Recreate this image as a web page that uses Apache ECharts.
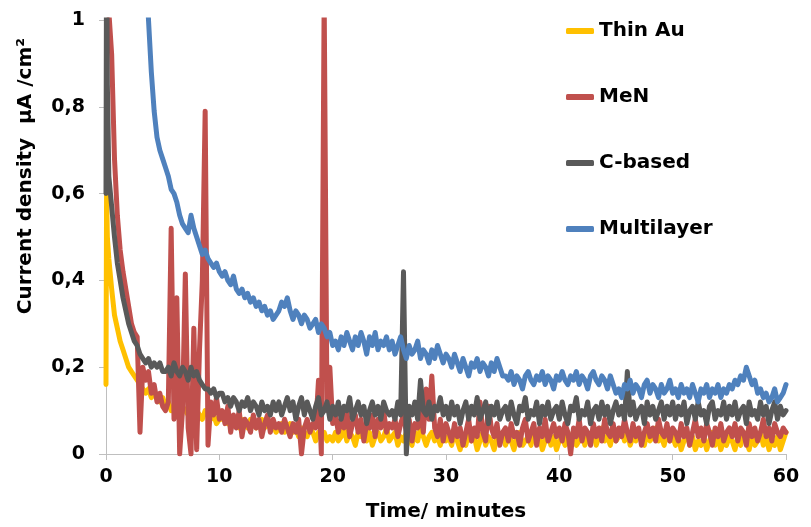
<!DOCTYPE html>
<html><head><meta charset="utf-8">
<script src="https://cdn.jsdelivr.net/npm/echarts@6/dist/echarts.min.js"></script>
<style>html,body{margin:0;padding:0;background:#fff}#c{width:811px;height:527px}</style>
</head><body><div id="c"></div>
<script>
const times = [0,0.05,0.12,
0.25,0.5,0.75,1,1.25,1.5,1.75,2,2.25,2.5,2.75,3,3.25,3.5,3.75,4,4.25,4.5,4.75,5,
5.25,5.5,5.75,6,6.25,6.5,6.75,7,7.25,7.5,7.75,8,8.25,8.5,8.75,9,9.25,9.5,9.75,10,
10.25,10.5,10.75,11,11.25,11.5,11.75,12,12.25,12.5,12.75,13,13.25,13.5,13.75,14,14.25,14.5,14.75,15,
15.25,15.5,15.75,16,16.25,16.5,16.75,17,17.25,17.5,17.75,18,18.25,18.5,18.75,19,19.25,19.5,19.75,20,
20.25,20.5,20.75,21,21.25,21.5,21.75,22,22.25,22.5,22.75,23,23.25,23.5,23.75,24,24.25,24.5,24.75,25,
25.25,25.5,25.75,26,26.25,26.5,26.75,27,27.25,27.5,27.75,28,28.25,28.5,28.75,29,29.25,29.5,29.75,30,
30.25,30.5,30.75,31,31.25,31.5,31.75,32,32.25,32.5,32.75,33,33.25,33.5,33.75,34,34.25,34.5,34.75,35,
35.25,35.5,35.75,36,36.25,36.5,36.75,37,37.25,37.5,37.75,38,38.25,38.5,38.75,39,39.25,39.5,39.75,40,
40.25,40.5,40.75,41,41.25,41.5,41.75,42,42.25,42.5,42.75,43,43.25,43.5,43.75,44,44.25,44.5,44.75,45,
45.25,45.5,45.75,46,46.25,46.5,46.75,47,47.25,47.5,47.75,48,48.25,48.5,48.75,49,49.25,49.5,49.75,50,
50.25,50.5,50.75,51,51.25,51.5,51.75,52,52.25,52.5,52.75,53,53.25,53.5,53.75,54,54.25,54.5,54.75,55,
55.25,55.5,55.75,56,56.25,56.5,56.75,57,57.25,57.5,57.75,58,58.25,58.5,58.75,59,59.25,59.5,59.75,60];

const thinAu = [0.16,0.6,0.5,
0.45,0.38,0.32,0.29,0.26,0.24,0.22,0.2,0.19,0.18,0.17,0.16,0.15,0.14,0.15,0.13,0.14,0.13,0.12,0.13,
0.11,0.12,0.1,0.11,0.1,0.09,0.11,0.1,0.09,0.1,0.08,0.1,0.09,0.08,0.1,0.09,0.08,0.09,0.07,0.08,
0.08,0.09,0.07,0.08,0.07,0.08,0.06,0.08,0.07,0.06,0.08,0.07,0.06,0.07,0.08,0.06,0.07,0.06,0.07,0.05,
0.06,0.07,0.05,0.06,0.07,0.05,0.06,0.04,0.06,0.05,0.04,0.06,0.05,0.03,0.05,0.04,0.05,0.03,0.04,0.03,
0.05,0.03,0.04,0.06,0.03,0.05,0.04,0.02,0.05,0.04,0.06,0.03,0.05,0.02,0.04,0.05,0.03,0.04,0.06,0.03,
0.04,0.05,0.02,0.04,0.03,0.05,0.04,0.02,0.05,0.03,0.06,0.04,0.02,0.04,0.05,0.03,0.04,0.02,0.05,0.03,
0.04,0.02,0.05,0.03,0.01,0.04,0.02,0.05,0.03,0.04,0.01,0.03,0.05,0.02,0.04,0.03,0.01,0.04,0.03,0.05,
0.02,0.04,0.03,0.01,0.04,0.05,0.02,0.03,0.04,0.02,0.05,0.03,0.04,0.01,0.03,0.05,0.02,0.04,0.01,0.03,
0.04,0.02,0.05,0.03,0.04,0.02,0.03,0.05,0.02,0.04,0.03,0.05,0.02,0.04,0.06,0.03,0.04,0.02,0.05,0.03,
0.04,0.06,0.03,0.05,0.02,0.04,0.03,0.05,0.04,0.02,0.05,0.03,0.04,0.06,0.03,0.04,0.02,0.05,0.03,0.04,
0.02,0.04,0.01,0.03,0.05,0.02,0.04,0.01,0.03,0.02,0.04,0.01,0.03,0.05,0.02,0.04,0.01,0.03,0.02,0.04,
0.03,0.01,0.04,0.02,0.05,0.03,0.01,0.04,0.02,0.03,0.05,0.02,0.04,0.01,0.03,0.02,0.04,0.01,0.03,0.05];

const meN = [1.3,1.2,1.1,
1.02,0.92,0.68,0.55,0.47,0.42,0.38,0.34,0.3,0.28,0.27,0.05,0.2,0.17,0.19,0.14,0.16,0.12,0.14,0.11,
0.1,0.12,0.52,0.08,0.36,0.0,0.1,0.415,0.06,0.0,0.29,0.01,0.24,0.4,0.79,0.02,0.12,0.09,0.13,0.08,
0.1,0.07,0.11,0.05,0.09,0.06,0.1,0.04,0.08,0.07,0.05,0.09,0.06,0.08,0.04,0.07,0.09,0.05,0.08,0.06,
0.07,0.05,0.08,0.06,0.04,0.07,0.05,0.08,0.0,0.06,0.08,0.05,0.07,0.06,0.17,0.0,1.05,0.1,0.2,0.07,
0.09,0.05,0.08,0.06,0.1,0.04,0.07,0.09,0.05,0.08,0.03,0.07,0.06,0.09,0.04,0.08,0.06,0.1,0.05,0.07,
0.06,0.08,0.04,0.07,0.09,0.05,0.08,0.03,0.07,0.06,0.1,0.05,0.15,0.08,0.18,0.06,0.04,0.08,0.03,0.07,
0.05,0.03,0.07,0.04,0.06,0.02,0.05,0.08,0.03,0.06,0.04,0.12,0.05,0.03,0.11,0.06,0.04,0.07,0.02,0.05,
0.06,0.03,0.07,0.04,0.05,0.02,0.06,0.08,0.03,0.05,0.07,0.02,0.06,0.04,0.08,0.03,0.05,0.07,0.04,0.06,
0.03,0.07,0.05,0.0,0.06,0.04,0.08,0.03,0.06,0.05,0.02,0.07,0.04,0.06,0.03,0.08,0.05,0.04,0.07,0.03,
0.06,0.04,0.08,0.05,0.03,0.07,0.04,0.06,0.02,0.05,0.07,0.04,0.06,0.03,0.08,0.05,0.04,0.07,0.03,0.06,
0.05,0.03,0.07,0.04,0.06,0.02,0.05,0.08,0.04,0.06,0.03,0.07,0.05,0.02,0.06,0.04,0.07,0.03,0.05,0.06,
0.04,0.07,0.03,0.06,0.05,0.02,0.07,0.04,0.06,0.03,0.05,0.08,0.04,0.06,0.03,0.07,0.05,0.04,0.06,0.05];

const cBased = [0.6,1.2,0.85,
0.64,0.57,0.5,0.44,0.4,0.36,0.33,0.3,0.28,0.26,0.25,0.23,0.22,0.21,0.22,0.2,0.21,0.2,0.21,0.19,
0.19,0.2,0.18,0.21,0.19,0.18,0.2,0.19,0.17,0.2,0.18,0.19,0.17,0.16,0.15,0.15,0.14,0.15,0.13,0.14,
0.14,0.12,0.13,0.11,0.13,0.12,0.1,0.12,0.11,0.13,0.1,0.12,0.11,0.09,0.12,0.1,0.11,0.09,0.12,0.1,
0.12,0.09,0.11,0.13,0.1,0.12,0.08,0.11,0.13,0.09,0.12,0.1,0.08,0.11,0.13,0.09,0.1,0.12,0.08,0.11,
0.09,0.12,0.08,0.11,0.1,0.13,0.08,0.1,0.12,0.09,0.11,0.07,0.1,0.12,0.09,0.11,0.08,0.12,0.1,0.09,
0.1,0.08,0.12,0.09,0.42,0.0,0.11,0.09,0.12,0.08,0.17,0.1,0.09,0.12,0.08,0.11,0.1,0.13,0.09,0.11,
0.08,0.12,0.09,0.11,0.07,0.1,0.12,0.08,0.11,0.09,0.13,0.08,0.1,0.12,0.07,0.11,0.09,0.12,0.08,0.1,
0.11,0.08,0.12,0.09,0.07,0.11,0.1,0.13,0.08,0.1,0.09,0.12,0.07,0.11,0.09,0.12,0.08,0.1,0.11,0.08,
0.12,0.09,0.07,0.11,0.1,0.13,0.08,0.1,0.09,0.12,0.07,0.1,0.11,0.08,0.12,0.09,0.11,0.07,0.1,0.12,
0.09,0.11,0.08,0.19,0.09,0.12,0.08,0.1,0.11,0.07,0.12,0.09,0.11,0.08,0.1,0.12,0.08,0.11,0.09,0.12,
0.08,0.11,0.09,0.12,0.07,0.1,0.11,0.08,0.12,0.09,0.1,0.07,0.11,0.12,0.08,0.1,0.09,0.12,0.08,0.11,
0.09,0.12,0.08,0.1,0.11,0.07,0.12,0.09,0.1,0.08,0.12,0.09,0.11,0.07,0.1,0.12,0.08,0.11,0.09,0.1];

const multilayer = [null,null,null,
null,null,null,null,null,null,null,null,null,null,null,null,1.35,1.15,1.0,0.88,0.79,0.73,0.7,0.68,
0.66,0.64,0.61,0.6,0.58,0.55,0.53,0.52,0.51,0.55,0.52,0.5,0.48,0.46,0.47,0.45,0.44,0.43,0.44,0.42,
0.41,0.42,0.4,0.39,0.41,0.38,0.37,0.38,0.36,0.37,0.35,0.36,0.34,0.35,0.33,0.34,0.32,0.33,0.31,0.32,
0.33,0.35,0.34,0.36,0.33,0.31,0.33,0.32,0.3,0.32,0.31,0.29,0.3,0.31,0.28,0.3,0.29,0.27,0.28,0.25,
0.26,0.24,0.27,0.25,0.28,0.26,0.24,0.27,0.25,0.28,0.26,0.23,0.27,0.25,0.28,0.24,0.26,0.25,0.27,0.24,
0.26,0.23,0.25,0.27,0.24,0.22,0.25,0.23,0.24,0.26,0.22,0.24,0.23,0.21,0.24,0.22,0.25,0.23,0.21,0.23,
0.22,0.2,0.23,0.21,0.19,0.22,0.2,0.18,0.21,0.2,0.22,0.19,0.21,0.2,0.18,0.21,0.19,0.22,0.2,0.18,
0.18,0.17,0.19,0.16,0.18,0.17,0.15,0.18,0.19,0.17,0.16,0.18,0.17,0.19,0.16,0.18,0.17,0.15,0.18,0.17,
0.19,0.17,0.16,0.18,0.17,0.19,0.16,0.18,0.17,0.15,0.18,0.19,0.17,0.16,0.18,0.17,0.15,0.18,0.16,0.14,
0.15,0.13,0.16,0.15,0.17,0.14,0.16,0.15,0.13,0.16,0.17,0.14,0.16,0.15,0.13,0.16,0.14,0.15,0.17,0.14,
0.15,0.13,0.16,0.14,0.15,0.13,0.16,0.14,0.12,0.15,0.14,0.16,0.13,0.15,0.14,0.16,0.13,0.15,0.14,0.16,
0.15,0.17,0.16,0.18,0.17,0.2,0.18,0.16,0.17,0.14,0.15,0.13,0.14,0.12,0.13,0.15,0.12,0.13,0.14,0.16];

const seriesNames = ['Thin Au','MeN','C-based','Multilayer'];
const seriesValues = [thinAu, meN, cBased, multilayer];
const seriesColors = ['#FFC000','#C0504D','#595959','#4F81BD'];

const FONT = 'DejaVu Sans';
const chart = echarts.init(document.getElementById('c'), null, {renderer:'canvas'});
chart.setOption({
  animation: false,
  backgroundColor: '#fff',
  grid: {left: 106, right: 25, top: 20, bottom: 72, containLabel: false},
  legend: {
    orient: 'vertical', left: 561, top: 16, itemGap: 46,
    icon: 'roundRect', itemWidth: 28, itemHeight: 6,
    textStyle: {fontFamily: FONT, fontWeight: 'bold', fontSize: 20, color: '#000'},
    data: seriesNames
  },
  xAxis: {
    type: 'value', min: 0, max: 60, interval: 10,
    name: 'Time/ minutes', nameLocation: 'middle', nameGap: 48,
    nameTextStyle: {fontFamily: FONT, fontWeight: 'bold', fontSize: 20, color: '#000'},
    axisLine: {show: true, lineStyle: {color: '#BFBFBF', width: 1}},
    axisTick: {show: true, length: 6, lineStyle: {color: '#BFBFBF'}},
    axisLabel: {margin: 14, fontFamily: FONT, fontWeight: 'bold', fontSize: 19, color: '#000'},
    splitLine: {show: false}
  },
  yAxis: {
    type: 'value', min: 0, max: 1, interval: 0.2,
    axisLine: {show: true, lineStyle: {color: '#BFBFBF', width: 1}},
    axisTick: {show: true, length: 7, lineStyle: {color: '#BFBFBF'}},
    axisLabel: {margin: 21, fontFamily: FONT, fontWeight: 'bold', fontSize: 19, color: '#000',
      formatter: v => String(Math.round(v * 10) / 10).replace('.', ',')},
    splitLine: {show: false}
  },
  graphic: [{
    type: 'text', left: 16, top: 38, rotation: Math.PI / 2,
    style: {text: 'Current density  μA /cm²', fontFamily: FONT, fontWeight: 'bold', fontSize: 20, fill: '#000'}
  }],
  series: seriesNames.map((name, k) => ({
    name, type: 'line', showSymbol: false, symbol: 'none', clip: true,
    color: seriesColors[k],
    lineStyle: {width: 5, color: seriesColors[k], join: 'round', cap: 'round'},
    data: times.map((t, i) => [t, seriesValues[k][i]])
  }))
});
</script></body></html>
